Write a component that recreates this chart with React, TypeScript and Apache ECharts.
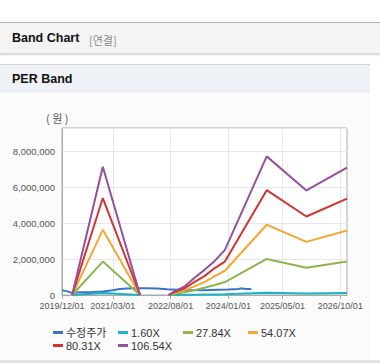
import React, { useEffect, useRef } from "react";
import * as echarts from "echarts";

// ---- data ----
const seriesNames = ["수정주가", "1.60X", "27.84X", "54.07X", "80.31X", "106.54X"];
const seriesColors = ["#3a74c8", "#1bb3c6", "#8fb44f", "#f5a733", "#d23430", "#96509d"];

const priceDates = [
  "2019-12-01", "2020-01-01", "2020-03-01", "2020-06-01", "2020-09-01", "2020-12-01",
  "2021-03-01", "2021-05-01", "2021-07-01", "2021-10-01", "2022-01-01", "2022-04-01",
  "2022-07-01", "2022-10-01", "2023-01-01", "2023-06-01", "2023-10-01", "2024-01-01",
  "2024-04-01", "2024-05-01", "2024-06-01", "2024-07-25",
];
const priceValues = [
  270000, 230000, 120000, 150000, 170000, 200000,
  260000, 330000, 360000, 370000, 370000, 360000,
  320000, 290000, 280000, 270000, 290000, 300000,
  340000, 370000, 330000, 330000,
];

const bandDates = [
  "2020-03-01", "2020-12-01", "2021-10-31", "2022-03-01",
  "2022-07-15", "2022-09-01", "2022-12-01", "2023-03-01", "2023-06-01",
  "2023-09-01", "2023-12-01", "2024-12-10", "2025-12-01", "2026-11-30",
];
const band160 = [0, 110000, 0, null, 0, 3000, 8000, 15000, 22000, 30000, 40000, 120000, 90000, 110000];
const band2784 = [0, 1860000, 0, null, 0, 50000, 150000, 270000, 400000, 560000, 720000, 2010000, 1520000, 1860000];
const band5407 = [0, 3630000, 0, null, 0, 100000, 260000, 480000, 720000, 1050000, 1350000, 3910000, 2960000, 3590000];
const band8031 = [0, 5400000, 0, null, 0, 150000, 370000, 720000, 1050000, 1500000, 1860000, 5840000, 4370000, 5370000];
const band10654 = [0, 7140000, 0, null, 0, 195000, 460000, 950000, 1400000, 1900000, 2510000, 7720000, 5820000, 7100000];

const xTickDates = ["2019-12-01", "2021-03-01", "2022-08-01", "2024-01-01", "2025-05-01", "2026-10-01"];
const xMinDate = "2019-12-01";
const xMaxDate = "2026-11-30";
const yMax = 9300000;
const yInterval = 2000000;

function ts(s: string): number {
  const [y, m, d] = s.split("-").map(Number);
  return new Date(y, m - 1, d).getTime();
}
function pad(n: number) {
  return n < 10 ? "0" + n : "" + n;
}
function fmtDate(v: number) {
  const d = new Date(v);
  return d.getFullYear() + "/" + pad(d.getMonth() + 1) + "/" + pad(d.getDate());
}

const FONT = "'Liberation Sans', Arial, 'Noto Sans CJK KR', sans-serif";

export default function App() {
  const ref = useRef<HTMLDivElement>(null);

  useEffect(() => {
    document.body.style.margin = "0";
    if (!ref.current) return;
    const chart = echarts.init(ref.current, undefined, { renderer: "svg" });

    const pair = (dates: string[], vals: (number | null)[]) =>
      dates.map((d, i) => [ts(d), vals[i]]);

    const bands = [band160, band2784, band5407, band8031, band10654];
    const series: any[] = [
      {
        name: seriesNames[0],
        type: "line",
        data: pair(priceDates, priceValues),
        showSymbol: false,
        lineStyle: { width: 2, color: seriesColors[0] },
        itemStyle: { color: seriesColors[0] },
      },
      ...bands.map((b, i) => ({
        name: seriesNames[i + 1],
        type: "line",
        data: pair(bandDates, b),
        showSymbol: false,
        connectNulls: false,
        lineStyle: { width: 2, color: seriesColors[i + 1] },
        itemStyle: { color: seriesColors[i + 1] },
      })),
    ];

    const legendPos = [
      [53, 327], [118, 327], [183, 327], [248, 327],
      [53, 340], [118, 340],
    ];
    const legends = seriesNames.map((n, i) => ({
      data: [n],
      left: legendPos[i][0],
      top: legendPos[i][1],
      padding: 0,
      icon: "rect",
      itemWidth: 10,
      itemHeight: 3,
      itemGap: 0,
      selectedMode: false,
      textStyle: { fontSize: 11, color: "#333", fontFamily: FONT, padding: [0, 0, 0, -2] },
    }));

    const ticks = xTickDates.map(ts);

    chart.setOption({
      animation: false,
      color: seriesColors,
      grid: {
        left: 62,
        top: 128,
        right: 33,
        bottom: 69,
        show: true,
        borderColor: "#aaaaaa",
        borderWidth: 1,
        backgroundColor: "#ffffff",
      },
      legend: legends,
      xAxis: {
        type: "value",
        min: ts(xMinDate),
        max: ts(xMaxDate),
        axisLine: { show: true, lineStyle: { color: "#aaaaaa" } },
        axisTick: { show: true, customValues: ticks, length: 4, lineStyle: { color: "#aaaaaa" } },
        axisLabel: {
          customValues: ticks,
          formatter: (v: number) => fmtDate(v),
          fontSize: 9,
          color: "#555",
          fontFamily: FONT,
          margin: 6,
          hideOverlap: false,
        },
        splitLine: { show: true, lineStyle: { color: "#e6e6e6" } },
      },
      yAxis: {
        type: "value",
        min: 0,
        max: yMax,
        interval: yInterval,
        axisLine: { show: true, lineStyle: { color: "#aaaaaa" } },
        axisTick: { show: false },
        axisLabel: {
          showMaxLabel: false,
          fontSize: 9.5,
          color: "#555",
          fontFamily: FONT,
          margin: 7,
          formatter: (v: number) => v.toLocaleString("en-US"),
        },
        splitLine: { show: true, lineStyle: { color: "#e6e6e6" } },
      },
      graphic: [
        {
          type: "text",
          left: 46,
          top: 112,
          style: { text: "( 원 )", fontSize: 11, fill: "#555", fontFamily: "'Noto Sans CJK KR', sans-serif" },
        },
      ],
      series,
    });

    return () => chart.dispose();
  }, []);

  return (
    <div style={{ position: "absolute", left: 0, top: 0, width: 380, height: 364, background: "#fff", overflow: "hidden", fontFamily: FONT }}>
      <div
        style={{
          position: "absolute", left: 0, top: 22, width: 380, height: 30,
          background: "#f4f4f4", borderTop: "1px solid #b5b5b5",
          boxShadow: "0 2px 2px rgba(0,0,0,0.18)",
        }}
      >
        <span style={{ position: "absolute", left: 12, top: 8, fontSize: 12.5, fontWeight: "bold", color: "#111" }}>Band Chart</span>
        <span style={{ position: "absolute", left: 89, top: 9, fontSize: 11, color: "#8a8a8a", fontFamily: "'Noto Sans CJK KR', sans-serif" }}>[연결]</span>
      </div>
      <div
        style={{
          position: "absolute", left: 0, top: 64, width: 370, height: 28,
          background: "#eef1f6", borderTop: "1px solid #d3d3d3",
        }}
      >
        <span style={{ position: "absolute", left: 12, top: 7, fontSize: 12.5, fontWeight: "bold", color: "#111" }}>PER Band</span>
      </div>
      <div style={{ position: "absolute", left: 0, top: 93, width: 370, height: 267, background: "#fbfbfb" }} />
      <div style={{ position: "absolute", left: 0, top: 360, width: 380, height: 3, background: "#e2e2e2" }} />
      <div ref={ref} style={{ position: "absolute", left: 0, top: 0, width: 380, height: 364 }} />
    </div>
  );
}
